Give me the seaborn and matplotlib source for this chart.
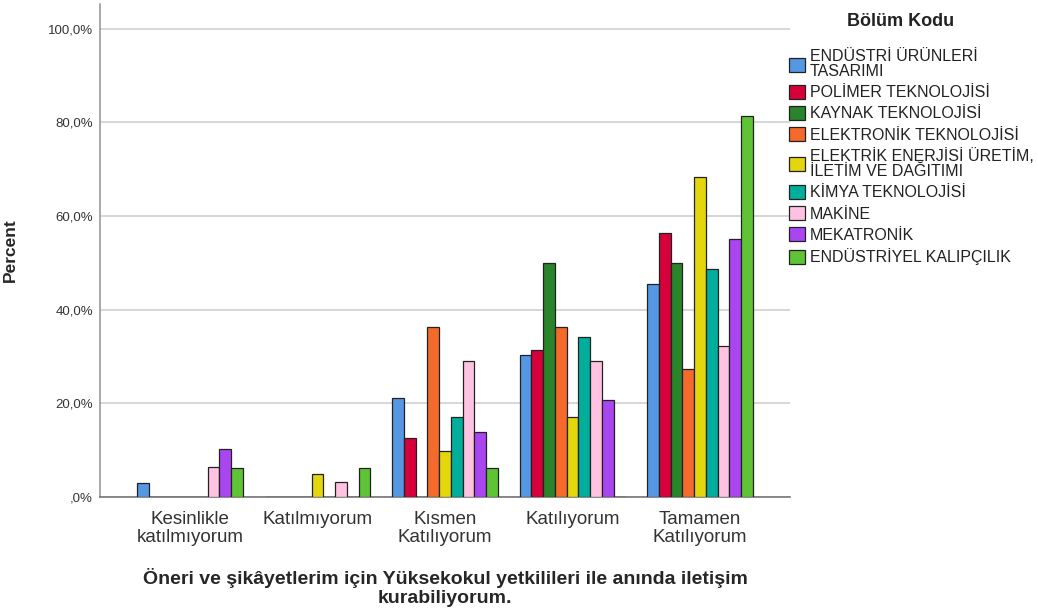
import pandas as pd
import matplotlib
matplotlib.use('Agg')
import matplotlib.pyplot as plt
import seaborn as sns

categories = ['Kesinlikle\nkatılmıyorum', 'Katılmıyorum', 'Kısmen\nKatılıyorum',
              'Katılıyorum', 'Tamamen\nKatılıyorum']

departments = ['ENDÜSTRİ ÜRÜNLERİ\nTASARIMI', 'POLİMER TEKNOLOJİSİ', 'KAYNAK TEKNOLOJİSİ',
               'ELEKTRONİK TEKNOLOJİSİ', 'ELEKTRİK ENERJİSİ ÜRETİM,\nİLETİM VE DAĞITIMI',
               'KİMYA TEKNOLOJİSİ', 'MAKİNE', 'MEKATRONİK', 'ENDÜSTRİYEL KALIPÇILIK']

# percent per department, in category order
endustri_urunleri = [3.0, 0.0, 21.2, 30.3, 45.5]
polimer = [0.0, 0.0, 12.5, 31.3, 56.3]
kaynak = [0.0, 0.0, 0.0, 50.0, 50.0]
elektronik = [0.0, 0.0, 36.4, 36.4, 27.3]
elektrik_enerjisi = [0.0, 4.9, 9.8, 17.1, 68.3]
kimya = [0.0, 0.0, 17.1, 34.1, 48.8]
makine = [6.5, 3.2, 29.0, 29.0, 32.3]
mekatronik = [10.3, 0.0, 13.8, 20.7, 55.2]
kalipcilik = [6.3, 6.3, 6.3, 0.0, 81.3]

series = [endustri_urunleri, polimer, kaynak, elektronik, elektrik_enerjisi,
          kimya, makine, mekatronik, kalipcilik]

colors = ['#5597E3', '#D6003A', '#2A8429', '#F36A2B', '#E3D60D',
          '#00AE9B', '#FFC3E1', '#A946F1', '#5EC436']

ytick_values = [0, 20, 40, 60, 80, 100]
ytick_labels = [',0%', '20,0%', '40,0%', '60,0%', '80,0%', '100,0%']

rows = []
for dep, vals in zip(departments, series):
    for cat, v in zip(categories, vals):
        rows.append({'cat': cat, 'dep': dep, 'pct': v})
df = pd.DataFrame(rows)

sns.set_style('white')
plt.rcParams['font.family'] = ['Liberation Sans', 'DejaVu Sans']

fig = plt.figure(figsize=(10.38, 6.10), dpi=100)
ax = fig.add_axes([100 / 1038, 1 - 497 / 610, 690 / 1038, 493 / 610])

sns.barplot(data=df, x='cat', y='pct', hue='dep', order=categories,
            hue_order=departments, palette=colors, width=0.83, saturation=1,
            edgecolor='#222222', linewidth=0.9, ax=ax, zorder=3)

ax.set_xlim(-0.706, 4.706)
ax.set_ylim(0, 105.3)
ax.set_yticks(ytick_values)
ax.set_yticklabels(ytick_labels, fontsize=9.5, color='#333333')
ax.tick_params(axis='x', labelsize=13.5, colors='#333333', length=0, pad=10)
ax.tick_params(axis='y', length=0, pad=5)
for t in ax.get_xticklabels():
    t.set_linespacing(1.08)
ax.yaxis.grid(True, color='#d0d0d0', linewidth=1.2, zorder=0)
ax.set_axisbelow(True)

for s in ['top', 'right']:
    ax.spines[s].set_visible(False)
ax.spines['left'].set_color('#999999')
ax.spines['bottom'].set_color('#777777')
ax.spines['left'].set_linewidth(1.2)
ax.spines['bottom'].set_linewidth(1.2)

ax.set_ylabel('Percent', fontsize=12.5, fontweight='bold')
ax.yaxis.set_label_coords(-0.119, 0.5)
ax.set_xlabel('Öneri ve şikâyetlerim için Yüksekokul yetkilileri ile anında iletişim\nkurabiliyorum.',
              fontsize=14, fontweight='bold', linespacing=1.12)
ax.xaxis.set_label_coords(0.5, -0.144)

fig.text(901 / 1038, 1 - 22 / 610, 'Bölüm Kodu', fontsize=13, fontweight='bold',
         ha='center', va='center', color='#222222')

handles, labels = ax.get_legend_handles_labels()
leg = ax.legend(handles, labels, loc='upper left',
                bbox_to_anchor=(789 / 1038, 1 - 49 / 610), bbox_transform=fig.transFigure,
                frameon=False, fontsize=11.5,
                handlelength=1.0, handleheight=1.0, handletextpad=0.3,
                labelspacing=0.345, borderaxespad=0, borderpad=0)
for t in leg.get_texts():
    t.set_linespacing(1.02)
    t.set_color('#222222')

fig.savefig('out.png', dpi=100)
